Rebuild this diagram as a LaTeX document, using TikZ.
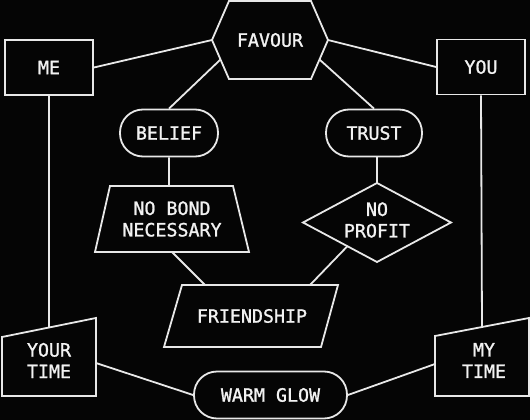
\documentclass[tikz,border=0pt]{standalone}
\usepackage{fontspec}
\setmainfont[FakeBold=1.2]{DejaVu Sans Mono}
\usetikzlibrary{calc}
\definecolor{bgcol}{HTML}{050505}
\definecolor{linecol}{HTML}{E8E8E8}
\definecolor{txtcol}{HTML}{F2F2F2}
\begin{document}
\begin{tikzpicture}[x=1pt,y=-1pt,
  shp/.style={draw=linecol, line width=1.8pt, line join=miter},
  link/.style={draw=linecol, line width=1.8pt},
  lbl/.style={text=txtcol, font=\fontsize{18.3}{21.5}\selectfont, align=center, inner sep=0pt},
  box/.style={lbl, draw=linecol, line width=1.8pt, minimum width=88pt, minimum height=55pt},
  pill/.style={lbl, draw=linecol, line width=1.8pt, rounded corners=23pt, minimum height=47pt}
]
\fill[bgcol] (0,0) rectangle (530,420);
\useasboundingbox (0,0) rectangle (530,420);

% FAVOUR hexagon
\draw[shp] (212,40) coordinate (h1) -- (229,1) coordinate (h2) -- (311,1) coordinate (h3)
  -- (328,40) coordinate (h4) -- (311,79) coordinate (h5) -- (229,79) coordinate (h6) -- cycle;
\node[lbl] (fav) at (270,40) {FAVOUR};
\coordinate (hll) at ($(h1)!0.5!(h6)$);
\coordinate (hlr) at ($(h4)!0.5!(h5)$);

% ME / YOU
\node[box] (me) at (49,67.5) {ME};
\node[box] (you) at (481,67) {YOU};

% BELIEF / TRUST
\node[pill, minimum width=98pt] (belief) at (169,133) {BELIEF};
\node[pill, minimum width=96pt] (trust) at (374,133) {TRUST};

% NO BOND NECESSARY trapezoid
\draw[shp] (110,186) coordinate (t1) -- (233,186) coordinate (t2) -- (249,252) coordinate (t3)
  -- (95,252) coordinate (t4) -- cycle;
\node[lbl] (nobond) at (172,219) {NO BOND\\NECESSARY};
\coordinate (ttop) at ($(t1)!0.480!(t2)$);
\coordinate (tbot) at ($(t4)!0.500!(t3)$);

% NO PROFIT diamond
\draw[shp] (377,183) coordinate (d1) -- (451,222.5) coordinate (d2) -- (377,262) coordinate (d3)
  -- (303,222.5) coordinate (d4) -- cycle;
\node[lbl] (noprofit) at (377,220) {NO\\PROFIT};
\coordinate (dll) at ($(d4)!0.6!(d3)$);

% FRIENDSHIP parallelogram
\draw[shp] (182,285) coordinate (f1) -- (338,285) coordinate (f2) -- (321,347) coordinate (f3)
  -- (164,347) coordinate (f4) -- cycle;
\node[lbl] (friend) at (252,316) {FRIENDSHIP};
\coordinate (fta) at (205,285);
\coordinate (ftb) at (310,285);

% YOUR TIME
\draw[shp] (2,337) coordinate (y1) -- (96,318) coordinate (y2) -- (96,396) coordinate (y3)
  -- (2,396) coordinate (y4) -- cycle;
\node[lbl] (yourtime) at (49,360.5) {YOUR\\TIME};
\coordinate (ytop) at ($(y1)!0.5!(y2)$);
\coordinate (yright) at (96,363);

% MY TIME
\draw[shp] (435,336) coordinate (m1) -- (529,318) coordinate (m2) -- (529,396) coordinate (m3)
  -- (435,396) coordinate (m4) -- cycle;
\node[lbl] (mytime) at (484,360.5) {MY\\TIME};
\coordinate (mtop) at ($(m1)!0.5!(m2)$);
\coordinate (mleft) at (435,364);

% WARM GLOW
\node[pill, minimum width=153pt] (warm) at (270.5,395) {WARM GLOW};

% connectors
\draw[link] (me.east) -- (h1);
\draw[link] (h4) -- (you.west);
\draw[link] (belief.north) -- (hll);
\draw[link] (trust.north) -- (hlr);
\draw[link] (belief.south) -- (ttop);
\draw[link] (trust.south -| d1) -- (d1);
\draw[link] (tbot) -- (fta);
\draw[link] (dll) -- (ftb);
\draw[link] (me.south) -- (ytop);
\draw[link] (you.south) -- (mtop);
\draw[link] (yright) -- (warm.west);
\draw[link] (warm.east) -- (mleft);
\end{tikzpicture}
\end{document}
